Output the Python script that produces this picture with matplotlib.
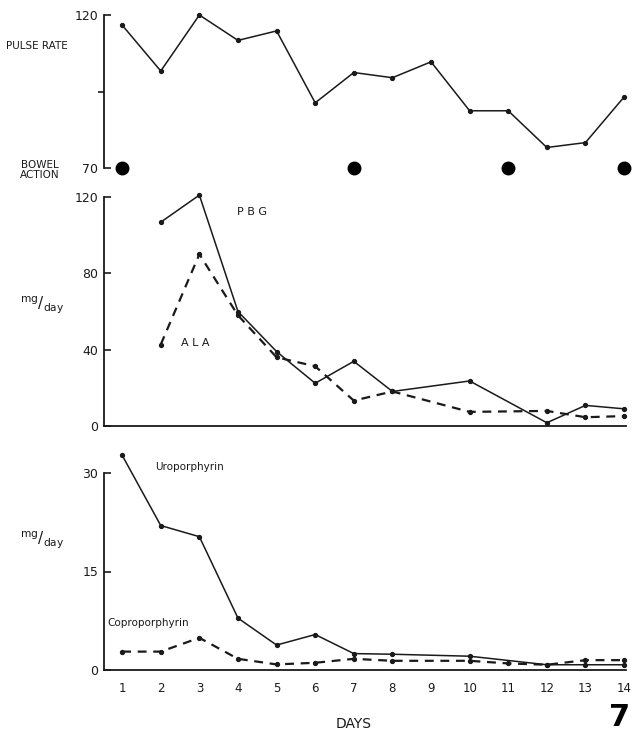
import matplotlib
matplotlib.use("Agg")
import matplotlib.pyplot as plt

# ---- data ----
days = list(range(1, 15))
pulse_days = [1, 2, 3, 4, 5, 6, 7, 8, 9, 10, 11, 12, 13, 14]
pulse_rate = [116.7, 101.7, 120, 111.7, 114.8, 91.3, 101.2, 99.5, 104.7, 88.7, 88.7, 76.7, 78.3, 93.2]
bowel_days = [1, 7, 11, 14]
bowel_level = [70, 70, 70, 70]

pbg_days = [2, 3, 4, 5, 6, 7, 8, 10, 12, 13, 14]
pbg = [106.8, 121, 60, 39, 22.4, 33.9, 18.1, 23.6, 1.7, 10.8, 9.0]
ala_days = [2, 3, 4, 5, 6, 7, 8, 10, 12, 13, 14]
ala = [42.7, 90, 58, 36, 31.3, 13.3, 18.1, 7.4, 7.9, 4.6, 5.2]

uro_days = [1, 2, 3, 4, 5, 6, 7, 8, 10, 12, 13, 14]
uro = [32.7, 22.0, 20.3, 7.9, 3.8, 5.4, 2.5, 2.4, 2.1, 0.8, 0.8, 0.8]
copro_days = [1, 2, 3, 4, 5, 6, 7, 8, 10, 11, 12, 13, 14]
copro = [2.8, 2.8, 4.9, 1.7, 0.85, 1.1, 1.7, 1.4, 1.4, 1.0, 0.8, 1.5, 1.5]

pulse_ticks = [70, 120]
pulse_ticklabels = ["70", "120"]
pulse_mid_tick = [95]
mid_ticks = [0, 40, 80, 120]
low_ticks = [0, 15, 30]
day_labels = [str(d) for d in days]

W, H = 632, 734
fig = plt.figure(figsize=(W / 100, H / 100), dpi=100)
plt.rcParams['font.family'] = ['DejaVu Sans']

ink = "#1a1a1a"
left = 104 / W
width = 522 / W
xlim = (0.53, 14.05)

def axes_px(top, bottom):
    return fig.add_axes([left, 1 - bottom / H, width, (bottom - top) / H])

def style(ax, ticks, labels, show_bottom):
    ax.set_xlim(*xlim)
    for s in ["top", "right"]:
        ax.spines[s].set_visible(False)
    ax.spines["left"].set_color(ink)
    ax.spines["left"].set_linewidth(1.3)
    if show_bottom:
        ax.spines["bottom"].set_color(ink)
        ax.spines["bottom"].set_linewidth(1.3)
    else:
        ax.spines["bottom"].set_visible(False)
    ax.set_yticks(ticks)
    ax.set_yticklabels(labels)
    ax.tick_params(axis="y", direction="in", length=5, width=1.2, colors=ink,
                   labelsize=9, pad=4)
    ax.patch.set_alpha(0)

solid_kw = dict(color=ink, lw=1.1, marker="o", ms=2.8, clip_on=False)
dash_kw = dict(color=ink, lw=1.6, marker="o", ms=2.8, clip_on=False, dashes=(4, 3))

# top panel
ax1 = axes_px(15, 168)
ax1.set_ylim(70, 120)
ax1.plot(pulse_days, pulse_rate, **solid_kw)
ax1.plot(bowel_days, bowel_level, "o", color="black", ms=9, clip_on=False, zorder=5)
style(ax1, pulse_ticks, pulse_ticklabels, False)
ax1.set_yticks(pulse_mid_tick, minor=True)
ax1.tick_params(axis="y", which="minor", direction="out", length=4, width=1.2, colors=ink)
ax1.set_xticks([])
fig.text(6 / W, 1 - 46 / H, "PULSE RATE", fontsize=7.5, va="center", ha="left", color=ink)
fig.text(40 / W, 1 - 170 / H, "BOWEL\nACTION", fontsize=7.5, va="center", ha="center",
         color=ink, linespacing=0.95)

# middle panel
ax2 = axes_px(197, 426)
ax2.set_ylim(0, 120)
ax2.plot(pbg_days, pbg, **solid_kw)
ax2.plot(ala_days, ala, **dash_kw)
style(ax2, mid_ticks, [str(t) for t in mid_ticks], True)
ax2.set_xticks([])
ax2.text(252 / W, 1 - 212 / H, "P B G", transform=fig.transFigure, fontsize=8,
         ha="center", va="center", color=ink)
ax2.text(195 / W, 1 - 343 / H, "A L A", transform=fig.transFigure, fontsize=8,
         ha="center", va="center", color=ink)
fig.text(42 / W, 1 - 305 / H, r"$^{\mathrm{mg}}/_{\mathrm{day}}$", fontsize=11,
         ha="center", va="center", color=ink)

# bottom panel
ax3 = axes_px(473, 670)
ax3.set_ylim(0, 30)
ax3.plot(uro_days, uro, **solid_kw)
ax3.plot(copro_days, copro, **dash_kw)
style(ax3, low_ticks, [str(t) for t in low_ticks], True)
ax3.set_xticks(days)
ax3.set_xticklabels(day_labels)
ax3.tick_params(axis="x", length=0, labelsize=8.5, pad=9, colors=ink)
fig.text(155 / W, 1 - 467 / H, "Uroporphyrin", fontsize=7.5, ha="left", va="center", color=ink)
fig.text(107 / W, 1 - 623 / H, "Coproporphyrin", fontsize=7.5, ha="left", va="center", color=ink)
fig.text(42 / W, 1 - 540 / H, r"$^{\mathrm{mg}}/_{\mathrm{day}}$", fontsize=11,
         ha="center", va="center", color=ink)
fig.text(354 / W, 1 - 724 / H, "DAYS", fontsize=10, ha="center", va="center", color=ink)
fig.text(630 / W, 1 - 718 / H, "7", fontsize=22, fontweight="bold", ha="right",
         va="center", color="black")

fig.savefig("out.png", dpi=100, facecolor="white")
